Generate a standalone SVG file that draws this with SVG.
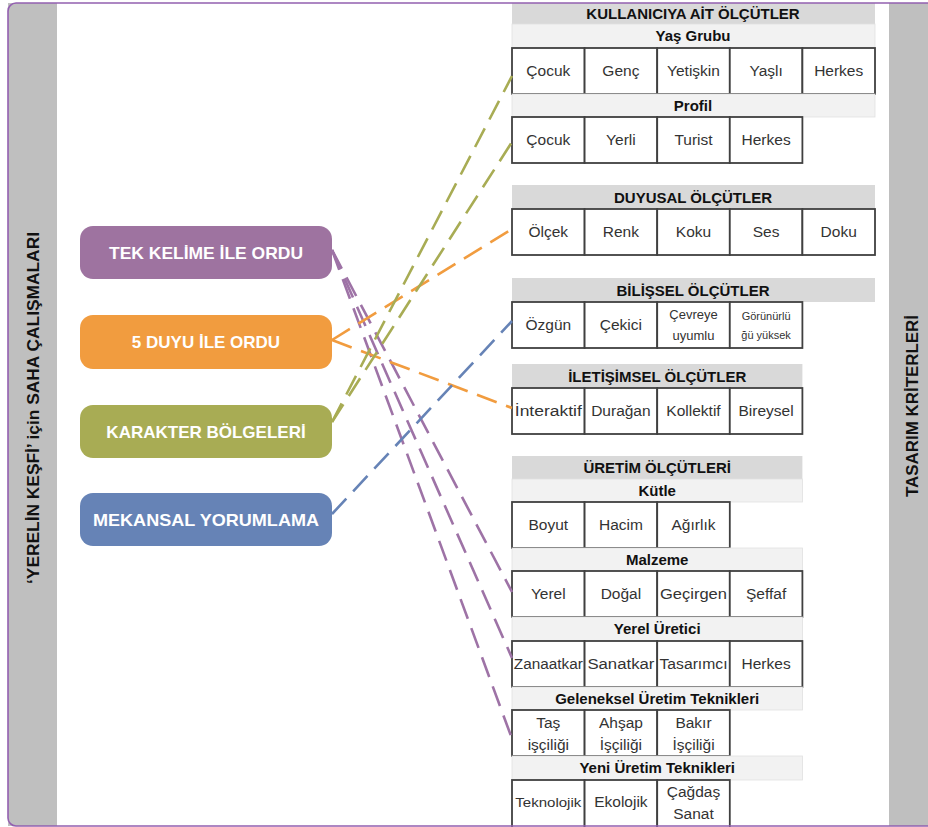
<svg xmlns="http://www.w3.org/2000/svg" width="928" height="827" viewBox="0 0 928 827">
<defs>
<style>
.band{fill:#BFBFBF}
.hdr{fill:#D9D9D9}
.sub{fill:#F2F2F2;stroke:#E0E0E0;stroke-width:0.8}
.cell{fill:#fff;stroke:#404040;stroke-width:1.8}
.t{font-family:"Liberation Sans",Arial,sans-serif;font-size:15.5px;fill:#333;text-anchor:middle}
.s{font-size:13px}
.xs{font-size:11px}
.h{font-family:"Liberation Sans",Arial,sans-serif;font-size:15px;font-weight:bold;fill:#111;text-anchor:middle}
.nt{font-family:"Liberation Sans",Arial,sans-serif;font-size:17px;font-weight:bold;fill:#fff;text-anchor:middle}
.side{font-family:"Liberation Sans",Arial,sans-serif;font-size:17px;font-weight:bold;fill:#111;text-anchor:middle}
.con{fill:none;stroke-width:2.6;stroke-dasharray:21 10}
</style>
</defs>
<rect x="0" y="0" width="928" height="827" fill="#fff"/>
<g id="frame-bg">
<rect class="band" x="8" y="3" width="49" height="823"/>
<rect class="band" x="889" y="3" width="45" height="823"/>
</g>
<g id="left-label">
<text class="side" transform="translate(39,408) rotate(-90)" textLength="352" lengthAdjust="spacingAndGlyphs">‘YERELİN KEŞFİ’ için SAHA ÇALIŞMALARI</text>
</g>
<g id="right-label">
<text class="side" transform="translate(918,406) rotate(-90)" textLength="182" lengthAdjust="spacingAndGlyphs">TASARIM KRİTERLERİ</text>
</g>

<g id="node-tek">
<rect x="80" y="226" width="252" height="53" rx="13" fill="#9E73A0"/>
<text class="nt" x="206" y="259" textLength="194" lengthAdjust="spacingAndGlyphs">TEK KELİME İLE ORDU</text>
</g>
<g id="node-duyu">
<rect x="80" y="315" width="252" height="54" rx="13" fill="#F19C3F"/>
<text class="nt" x="206" y="348">5 DUYU İLE ORDU</text>
</g>
<g id="node-karakter">
<rect x="80" y="405" width="252" height="53" rx="13" fill="#A8AC54"/>
<text class="nt" x="206" y="438">KARAKTER BÖLGELERİ</text>
</g>
<g id="node-mekansal">
<rect x="80" y="493" width="252" height="53" rx="13" fill="#6683B6"/>
<text class="nt" x="206" y="526" textLength="226" lengthAdjust="spacingAndGlyphs">MEKANSAL YORUMLAMA</text>
</g>

<g id="table-kullanici">
<rect class="hdr" x="512" y="3" width="363" height="21"/>
<text class="h" x="693" y="19">KULLANICIYA AİT ÖLÇÜTLER</text>
<rect class="sub" x="512" y="24" width="363" height="24"/>
<text class="h" x="693" y="41">Yaş Grubu</text>
<rect class="cell" x="512" y="48" width="72.6" height="46"/>
<rect class="cell" x="584.6" y="48" width="72.6" height="46"/>
<rect class="cell" x="657.2" y="48" width="72.6" height="46"/>
<rect class="cell" x="729.8" y="48" width="72.6" height="46"/>
<rect class="cell" x="802.4" y="48" width="72.6" height="46"/>
<text class="t" x="548.3" y="76">Çocuk</text>
<text class="t" x="620.9" y="76">Genç</text>
<text class="t" x="693.5" y="76">Yetişkin</text>
<text class="t" x="766.1" y="76">Yaşlı</text>
<text class="t" x="838.7" y="76">Herkes</text>
<rect class="sub" x="512" y="94" width="363" height="23"/>
<text class="h" x="693" y="111">Profil</text>
<rect class="cell" x="512" y="117" width="72.6" height="46"/>
<rect class="cell" x="584.6" y="117" width="72.6" height="46"/>
<rect class="cell" x="657.2" y="117" width="72.6" height="46"/>
<rect class="cell" x="729.8" y="117" width="72.6" height="46"/>
<text class="t" x="548.3" y="145">Çocuk</text>
<text class="t" x="620.9" y="145">Yerli</text>
<text class="t" x="693.5" y="145">Turist</text>
<text class="t" x="766.1" y="145">Herkes</text>
</g>

<g id="table-duyusal">
<rect class="hdr" x="512" y="185" width="363" height="24"/>
<text class="h" x="693" y="203">DUYUSAL ÖLÇÜTLER</text>
<rect class="cell" x="512" y="209" width="72.6" height="46"/>
<rect class="cell" x="584.6" y="209" width="72.6" height="46"/>
<rect class="cell" x="657.2" y="209" width="72.6" height="46"/>
<rect class="cell" x="729.8" y="209" width="72.6" height="46"/>
<rect class="cell" x="802.4" y="209" width="72.6" height="46"/>
<text class="t" x="548.3" y="237">Ölçek</text>
<text class="t" x="620.9" y="237">Renk</text>
<text class="t" x="693.5" y="237">Koku</text>
<text class="t" x="766.1" y="237">Ses</text>
<text class="t" x="838.7" y="237">Doku</text>
</g>

<g id="table-bilissel">
<rect class="hdr" x="512" y="278" width="363" height="24"/>
<text class="h" x="693" y="296">BİLİŞSEL ÖLÇÜTLER</text>
<rect class="cell" x="512" y="302" width="72.6" height="46"/>
<rect class="cell" x="584.6" y="302" width="72.6" height="46"/>
<rect class="cell" x="657.2" y="302" width="72.6" height="46"/>
<rect class="cell" x="729.8" y="302" width="72.6" height="46"/>
<text class="t" x="548.3" y="330">Özgün</text>
<text class="t" x="620.9" y="330">Çekici</text>
<text class="t s" x="693.5" y="319">Çevreye</text>
<text class="t s" x="693.5" y="340">uyumlu</text>
<text class="t xs" x="766.1" y="320">Görünürlü</text>
<text class="t xs" x="766.1" y="339">ğü yüksek</text>
</g>

<g id="table-iletisimsel">
<rect class="hdr" x="512" y="364" width="290.4" height="24"/>
<text class="h" x="657.2" y="382">İLETİŞİMSEL ÖLÇÜTLER</text>
<rect class="cell" x="512" y="388" width="72.6" height="46"/>
<rect class="cell" x="584.6" y="388" width="72.6" height="46"/>
<rect class="cell" x="657.2" y="388" width="72.6" height="46"/>
<rect class="cell" x="729.8" y="388" width="72.6" height="46"/>
<text class="t" x="548.3" y="416" textLength="67" lengthAdjust="spacingAndGlyphs">İnteraktif</text>
<text class="t" x="620.9" y="416">Durağan</text>
<text class="t" x="693.5" y="416">Kollektif</text>
<text class="t" x="766.1" y="416">Bireysel</text>
</g>

<g id="table-uretim">
<rect class="hdr" x="512" y="456" width="290.4" height="23"/>
<text class="h" x="657.2" y="473">ÜRETİM ÖLÇÜTLERİ</text>
<rect class="sub" x="512" y="479" width="290.4" height="23"/>
<text class="h" x="657.2" y="496">Kütle</text>
<rect class="cell" x="512" y="502" width="72.6" height="46"/>
<rect class="cell" x="584.6" y="502" width="72.6" height="46"/>
<rect class="cell" x="657.2" y="502" width="72.6" height="46"/>
<text class="t" x="548.3" y="530">Boyut</text>
<text class="t" x="620.9" y="530">Hacim</text>
<text class="t" x="693.5" y="530">Ağırlık</text>
<rect class="sub" x="512" y="548" width="290.4" height="23"/>
<text class="h" x="657.2" y="565">Malzeme</text>
<rect class="cell" x="512" y="571" width="72.6" height="46"/>
<rect class="cell" x="584.6" y="571" width="72.6" height="46"/>
<rect class="cell" x="657.2" y="571" width="72.6" height="46"/>
<rect class="cell" x="729.8" y="571" width="72.6" height="46"/>
<text class="t" x="548.3" y="599">Yerel</text>
<text class="t" x="620.9" y="599">Doğal</text>
<text class="t" x="693.5" y="599" textLength="67" lengthAdjust="spacingAndGlyphs">Geçirgen</text>
<text class="t" x="766.1" y="599">Şeffaf</text>
<rect class="sub" x="512" y="617" width="290.4" height="24"/>
<text class="h" x="657.2" y="634">Yerel Üretici</text>
<rect class="cell" x="512" y="641" width="72.6" height="46"/>
<rect class="cell" x="584.6" y="641" width="72.6" height="46"/>
<rect class="cell" x="657.2" y="641" width="72.6" height="46"/>
<rect class="cell" x="729.8" y="641" width="72.6" height="46"/>
<text class="t" x="548.3" y="669" textLength="69" lengthAdjust="spacingAndGlyphs">Zanaatkar</text>
<text class="t" x="620.9" y="669" textLength="67" lengthAdjust="spacingAndGlyphs">Sanatkar</text>
<text class="t" x="693.5" y="669" textLength="68" lengthAdjust="spacingAndGlyphs">Tasarımcı</text>
<text class="t" x="766.1" y="669">Herkes</text>
<rect class="sub" x="512" y="687" width="290.4" height="23"/>
<text class="h" x="657.2" y="704">Geleneksel Üretim Teknikleri</text>
<rect class="cell" x="512" y="710" width="72.6" height="46"/>
<rect class="cell" x="584.6" y="710" width="72.6" height="46"/>
<rect class="cell" x="657.2" y="710" width="72.6" height="46"/>
<text class="t" x="548.3" y="728">Taş</text>
<text class="t" x="548.3" y="750">işçiliği</text>
<text class="t" x="620.9" y="728">Ahşap</text>
<text class="t" x="620.9" y="750">İşçiliği</text>
<text class="t" x="693.5" y="728">Bakır</text>
<text class="t" x="693.5" y="750">İşçiliği</text>
<rect class="sub" x="512" y="756" width="290.4" height="24"/>
<text class="h" x="657.2" y="773">Yeni Üretim Teknikleri</text>
<rect class="cell" x="512" y="780" width="72.6" height="48"/>
<rect class="cell" x="584.6" y="780" width="72.6" height="48"/>
<rect class="cell" x="657.2" y="780" width="72.6" height="48"/>
<text class="t s" x="548.3" y="807" textLength="66" lengthAdjust="spacingAndGlyphs">Teknolojik</text>
<text class="t" x="620.9" y="807">Ekolojik</text>
<text class="t" x="693.5" y="797">Çağdaş</text>
<text class="t" x="693.5" y="819">Sanat</text>
</g>

<g id="connectors">
<line class="con" stroke="#9E73A6" x1="332" y1="250" x2="512" y2="592"/>
<line class="con" stroke="#9E73A6" x1="332" y1="250" x2="512" y2="658"/>
<line class="con" stroke="#9E73A6" x1="332" y1="250" x2="511" y2="736"/>
<line class="con" stroke="#F19C3F" x1="332" y1="340" x2="512" y2="229"/>
<line class="con" stroke="#F19C3F" x1="332" y1="340" x2="512" y2="408"/>
<line class="con" stroke="#A8AC54" x1="332" y1="422" x2="512" y2="76"/>
<line class="con" stroke="#A8AC54" x1="332" y1="422" x2="512" y2="142"/>
<line class="con" stroke="#6683B6" x1="332" y1="514" x2="512" y2="321"/>
</g>

<g id="frame">
<rect x="8" y="3" width="940" height="823" rx="8" fill="none" stroke="#9360B0" stroke-width="1.6"/>
</g>
</svg>
